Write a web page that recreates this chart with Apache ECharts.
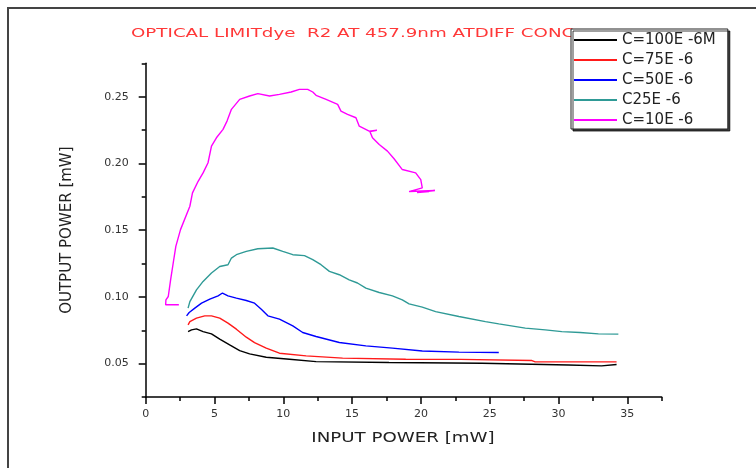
<!DOCTYPE html>
<html>
<head>
<meta charset="utf-8">
<script src="https://cdn.jsdelivr.net/npm/echarts@6/dist/echarts.min.js"></script>
<style>
  html, body { margin: 0; padding: 0; background: #fff; }
  #chart { width: 756px; height: 468px; }
</style>
</head>
<body>
<div id="chart"></div>
<script>
// Optical limiting curves: output power vs input power for several dye concentrations
const seriesNames = ['C=100E -6M', 'C=75E -6', 'C=50E -6', 'C25E -6', 'C=10E -6'];
const seriesColors = ['#000000', '#ff1a1a', '#0000ff', '#2f9a96', '#ff00ff'];

// C = 100E-6 M
const x100 = [3.08, 3.33, 3.69, 4.17, 4.78, 5.38, 6.10, 6.83, 7.55, 8.76, 10.45, 12.38, 17.69, 24.45, 24.57, 30.72, 30.84, 33.13, 33.25, 34.22];
const y100 = [0.0740, 0.0753, 0.0760, 0.0740, 0.0723, 0.0683, 0.0640, 0.0598, 0.0573, 0.0548, 0.0533, 0.0515, 0.0508, 0.0503, 0.0490, 0.0490, 0.0483, 0.0483, 0.0493, 0.0493];

// C = 75E-6
const x75 = [3.08, 3.21, 3.69, 4.29, 4.78, 5.38, 5.98, 6.59, 7.31, 7.91, 8.76, 9.72, 11.66, 14.31, 18.90, 22.88, 23.00, 28.07, 28.31, 34.22];
const y75 = [0.0791, 0.0815, 0.0841, 0.0858, 0.0858, 0.0841, 0.0803, 0.0758, 0.0698, 0.0658, 0.0616, 0.0578, 0.0558, 0.0541, 0.0533, 0.0532, 0.0523, 0.0523, 0.0513, 0.0513];

// C = 50E-6
const x50 = [2.97, 3.16, 3.57, 4.06, 4.66, 5.26, 5.58, 5.98, 6.59, 7.31, 7.91, 8.40, 8.88, 9.72, 10.69, 11.41, 12.38, 14.07, 16.00, 17.93, 20.10, 22.76, 25.66];
const y50 = [0.0858, 0.0883, 0.0916, 0.0953, 0.0983, 0.1008, 0.1029, 0.1008, 0.0991, 0.0973, 0.0953, 0.0908, 0.0858, 0.0833, 0.0783, 0.0733, 0.0703, 0.0658, 0.0633, 0.0616, 0.0595, 0.0586, 0.0583];

// C = 25E-6
const x25 = [3.08, 3.21, 3.69, 4.17, 4.78, 5.38, 5.98, 6.23, 6.59, 7.31, 8.15, 9.24, 9.96, 10.69, 11.54, 12.14, 12.74, 13.35, 14.07, 14.79, 15.39, 16.00, 16.97, 17.93, 18.65, 19.14, 20.10, 21.07, 22.76, 24.69, 25.66, 27.59, 29.04, 30.24, 31.57, 32.90, 34.35];
const y25 = [0.0916, 0.0965, 0.1053, 0.1116, 0.1179, 0.1228, 0.1241, 0.1291, 0.1316, 0.1341, 0.1361, 0.1366, 0.1341, 0.1316, 0.1309, 0.1279, 0.1241, 0.1191, 0.1166, 0.1128, 0.1104, 0.1066, 0.1033, 0.1008, 0.0978, 0.0948, 0.0923, 0.0890, 0.0853, 0.0815, 0.0798, 0.0766, 0.0753, 0.0740, 0.0733, 0.0723, 0.0721];

// C = 10E-6
const x10 = [2.41, 1.45, 1.47, 1.64, 1.81, 2.00, 2.19, 2.53, 3.21, 3.40, 3.81, 4.17, 4.53, 4.78, 5.14, 5.62, 5.91, 6.23, 6.83, 7.55, 8.15, 9.00, 9.72, 10.57, 11.17, 11.77, 12.14, 12.38, 13.11, 13.95, 14.19, 14.67, 15.28, 15.52, 16.24, 16.80, 16.30, 16.48, 16.97, 17.57, 18.05, 18.65, 19.62, 19.99, 20.10, 19.14, 21.02, 19.72, 20.59];
const y10 = [0.0941, 0.0941, 0.0978, 0.1003, 0.1128, 0.1254, 0.1378, 0.1504, 0.1679, 0.1779, 0.1866, 0.1929, 0.2005, 0.2129, 0.2192, 0.2255, 0.2317, 0.2405, 0.2480, 0.2505, 0.2523, 0.2505, 0.2517, 0.2535, 0.2555, 0.2555, 0.2535, 0.2510, 0.2480, 0.2442, 0.2392, 0.2367, 0.2342, 0.2279, 0.2242, 0.2248, 0.2238, 0.2192, 0.2142, 0.2092, 0.2035, 0.1954, 0.1929, 0.1879, 0.1817, 0.1789, 0.1797, 0.1782, 0.1789];

const xSets = [x100, x75, x50, x25, x10];
const ySets = [y100, y75, y50, y25, y10];

// Axis ticks and labels
const xMajor = [0, 5, 10, 15, 20, 25, 30, 35];
const xMinor = [2.5, 7.5, 12.5, 17.5, 22.5, 27.5, 32.5, 37.5];
const yMajor = [0.05, 0.10, 0.15, 0.20, 0.25];
const yMinor = [0.025, 0.075, 0.125, 0.175, 0.225, 0.275];

const chartTitle = 'OPTICAL LIMITdye  R2 AT 457.9nm ATDIFF CONC';
const xTitle = 'INPUT POWER [mW]';
const yTitle = 'OUTPUT POWER [mW]';

const chart = echarts.init(document.getElementById('chart'), null, { renderer: 'canvas' });

const axisFont = { fontFamily: 'DejaVu Sans', fontSize: 11, color: '#333' };
const lineStyleAxis = { color: '#000', width: 1.5 };

const series = seriesNames.map((name, i) => ({
  name: name,
  type: 'line',
  data: xSets[i].map((x, k) => [x, ySets[i][k]]),
  symbol: 'none',
  showSymbol: false,
  lineStyle: { color: seriesColors[i], width: 1.4 },
  itemStyle: { color: seriesColors[i] },
  animation: false,
  z: 3
}));

chart.setOption({
  animation: false,
  backgroundColor: '#fff',
  legend: {
    orient: 'vertical',
    left: 571,
    top: 29,
    z: 10,
    padding: [3, 12, 1, 3],
    itemWidth: 43,
    itemHeight: 2,
    itemGap: 4,
    icon: 'rect',
    backgroundColor: '#fff',
    borderColor: '#222',
    borderWidth: 1,
    shadowColor: 'rgba(0,0,0,0.75)',
    shadowOffsetX: 2,
    shadowOffsetY: 2,
    shadowBlur: 0,
    textStyle: { fontFamily: 'DejaVu Sans', fontSize: 15, lineHeight: 16, color: '#222' },
    data: seriesNames
  },
  grid: { left: 145.7, right: 94.3, top: 63.3, bottom: 71, containLabel: false },
  xAxis: [
    {
      type: 'value', min: 0, max: 37.5,
      axisLine: { show: true, onZero: false, lineStyle: lineStyleAxis },
      axisTick: { show: true, inside: false, length: 7, lineStyle: lineStyleAxis, customValues: xMajor },
      axisLabel: Object.assign({ margin: 12, customValues: xMajor }, axisFont),
      splitLine: { show: false }
    },
    {
      type: 'value', min: 0, max: 37.5, position: 'bottom',
      axisLine: { show: false },
      axisTick: { show: true, inside: false, length: 4, lineStyle: lineStyleAxis, customValues: xMinor },
      axisLabel: { show: false },
      splitLine: { show: false }
    }
  ],
  yAxis: [
    {
      type: 'value', min: 0.025, max: 0.275,
      name: yTitle, nameLocation: 'middle', nameGap: 71, nameRotate: 90,
      nameTextStyle: { fontFamily: 'DejaVu Sans', fontSize: 15, color: '#222' },
      axisLine: { show: true, onZero: false, lineStyle: lineStyleAxis },
      axisTick: { show: true, inside: false, length: 7, lineStyle: lineStyleAxis, customValues: yMajor },
      axisLabel: Object.assign({ margin: 17, customValues: yMajor, formatter: v => v.toFixed(2) }, axisFont),
      splitLine: { show: false }
    },
    {
      type: 'value', min: 0.025, max: 0.275, position: 'left',
      axisLine: { show: false },
      axisTick: { show: true, inside: false, length: 4, lineStyle: lineStyleAxis, customValues: yMinor },
      axisLabel: { show: false },
      splitLine: { show: false }
    }
  ],
  graphic: [
    {
      // page frame
      type: 'polyline',
      shape: { points: [[8, 468], [8, 8], [756, 8]] },
      style: { stroke: '#444', lineWidth: 2, fill: null },
      z: 0
    },
    {
      // chart heading, sits under the legend box
      type: 'text',
      x: 131, y: 34,
      scaleX: 1.52,
      z: 1,
      style: {
        text: chartTitle,
        fontFamily: 'DejaVu Sans', fontSize: 12,
        fill: '#ff3838',
        textAlign: 'left', textVerticalAlign: 'middle'
      }
    },
    {
      // x axis title
      type: 'text',
      x: 403, y: 438,
      scaleX: 1.3,
      z: 1,
      style: {
        text: xTitle,
        fontFamily: 'DejaVu Sans', fontSize: 14,
        fill: '#222',
        textAlign: 'center', textVerticalAlign: 'middle'
      }
    }
  ],
  series: series
});
</script>
</body>
</html>
